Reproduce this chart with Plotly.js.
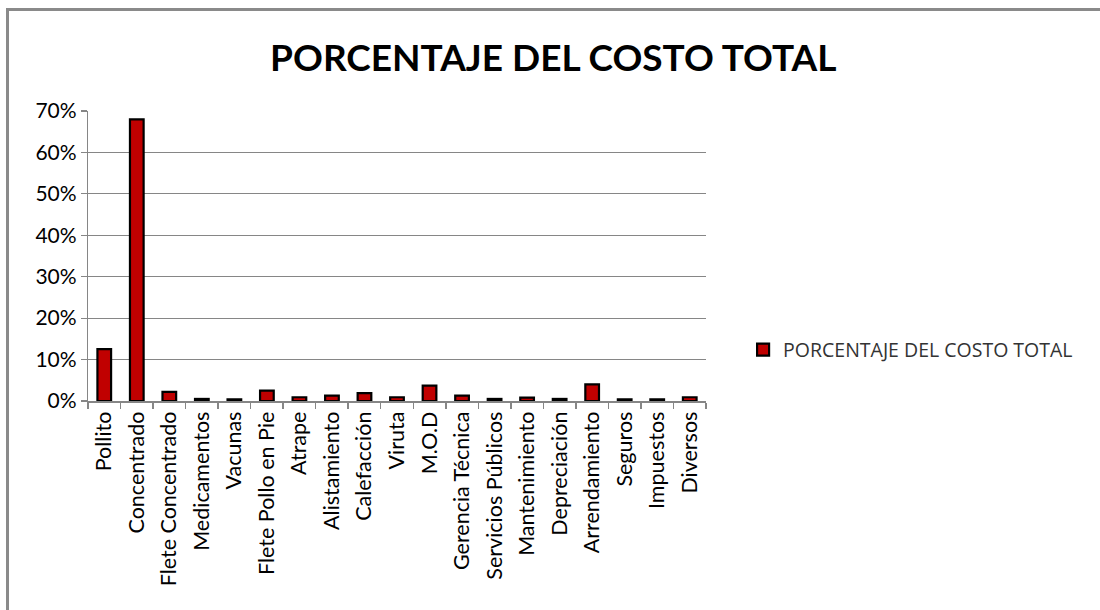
<!DOCTYPE html>
<html>
<head>
<meta charset="utf-8">
<script src="https://cdn.plot.ly/plotly-3.0.1.min.js"></script>
<style>
html,body{margin:0;padding:0;background:#fff;}
#frame{position:absolute;left:6px;top:8px;width:1100px;height:610px;border-left:3px solid #8a8a8a;border-top:3px solid #8a8a8a;}
#chart{position:absolute;left:0;top:0;width:1100px;height:610px;}
</style>
</head>
<body>
<div id="frame"></div>
<div id="chart"></div>
<script>
const categories = ["Pollito","Concentrado","Flete Concentrado","Medicamentos","Vacunas","Flete Pollo en Pie","Atrape","Alistamiento","Calefacción","Viruta","M.O.D","Gerencia Técnica","Servicios Públicos","Mantenimiento","Depreciación","Arrendamiento","Seguros","Impuestos","Diversos"];
const porcentaje = [0.125,0.68,0.022,0.005,0.004,0.025,0.009,0.013,0.019,0.009,0.037,0.013,0.005,0.008,0.005,0.040,0.004,0.004,0.009];
const seriesName = "PORCENTAJE DEL COSTO TOTAL";
const chartTitle = "PORCENTAJE DEL COSTO TOTAL";

const trace = {
  type: 'bar',
  x: categories,
  y: porcentaje,
  name: seriesName,
  width: 0.42,
  marker: {color: '#c00000', line: {color: '#000', width: 2.2}},
  showlegend: true
};

const layout = {
  width: 1100, height: 610,
  paper_bgcolor: 'rgba(0,0,0,0)', plot_bgcolor: '#fff',
  margin: {l: 88, r: 394, t: 111, b: 209, pad: 0},
  title: {text: chartTitle, x: 0.503, xanchor: 'center', y: 0.905, yanchor: 'middle',
    font: {family: 'Lato, "Open Sans", sans-serif', size: 37, color: '#000', weight: 'bold'}},
  font: {family: 'Lato, "Open Sans", sans-serif', color: '#000'},
  xaxis: {
    type: 'category', tickangle: -90, tickson: 'boundaries',
    ticks: 'outside', ticklen: 6, tickcolor: '#868686', tickwidth: 1.5,
    showline: true, linecolor: '#868686', linewidth: 2,
    showgrid: false, tickfont: {size: 21.5, color: '#000'},
    range: [-0.5, 18.5]
  },
  yaxis: {
    range: [0, 0.7], dtick: 0.1, tickformat: '.0%',
    ticks: 'outside', ticklen: 6, tickcolor: '#868686', tickwidth: 1.2,
    showline: true, linecolor: '#868686', linewidth: 1.2,
    showgrid: true, gridcolor: '#868686', gridwidth: 1.2,
    zeroline: false, tickfont: {size: 21, color: '#000'}
  },
  legend: {x: 1.06, y: 0.176, xanchor: 'left', yanchor: 'middle',
    font: {size: 19.5, color: '#333', family: '"Open Sans", sans-serif'},
    bgcolor: 'rgba(0,0,0,0)', itemwidth: 20}
};

Plotly.newPlot('chart', [trace], layout, {displayModeBar: false, staticPlot: true});
</script>
</body>
</html>
